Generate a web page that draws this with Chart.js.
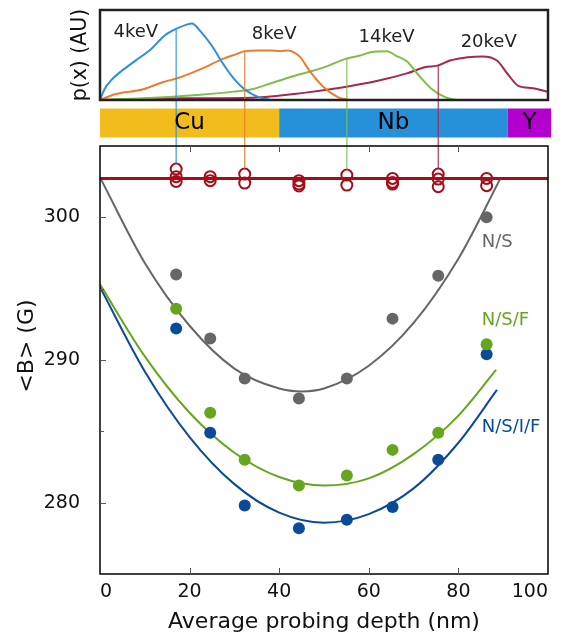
<!DOCTYPE html>
<html>
<head>
<meta charset="utf-8">
<script src="https://cdn.jsdelivr.net/npm/chart.js@4"></script>
<style>
  html, body { margin: 0; padding: 0; background: #fff; }
  #wrap { width: 565px; height: 637px; }
</style>
</head>
<body>
<div id="wrap"><canvas id="fig"></canvas></div>
<script>
'use strict'

// implantation profiles p(x), top panel (depth in nm, arbitrary units)
const prof4X = [0, 1, 2.5, 5, 8, 11.5, 14.5, 17, 19.5, 20.5, 22.5, 25, 27.5, 30, 32.5, 35, 38]
const prof4Y = [0, 0.12, 0.22, 0.33, 0.44, 0.57, 0.72, 0.79, 0.84, 0.85, 0.76, 0.6, 0.4, 0.23, 0.11, 0.04, 0]
const prof8X = [0, 3.3, 9.7, 13.8, 17.8, 22.6, 27.4, 30.6, 32.3, 35.5, 38, 40.3, 41.9, 43.3, 44.8, 46.7, 50, 53.2, 55.6]
const prof8Y = [0, 0.064, 0.12, 0.195, 0.25, 0.345, 0.457, 0.513, 0.543, 0.55, 0.55, 0.543, 0.55, 0.53, 0.47, 0.33, 0.14, 0.03, 0]
const prof14X = [0, 9.7, 21.8, 29.8, 33.9, 38.7, 43.5, 50, 54.8, 58, 60.4, 64, 66, 68.5, 70.9, 74.1, 77.3, 79.7]
const prof14Y = [0, 0.019, 0.056, 0.093, 0.12, 0.195, 0.27, 0.363, 0.457, 0.494, 0.531, 0.543, 0.494, 0.43, 0.289, 0.12, 0.026, 0]
const prof20X = [0, 17.8, 33.9, 45.9, 54, 62, 68.5, 72.5, 75.3, 78.1, 82.1, 85.4, 88.6, 91, 93.4, 96.6, 100]
const prof20Y = [0, 0.019, 0.026, 0.082, 0.138, 0.213, 0.296, 0.363, 0.382, 0.438, 0.475, 0.483, 0.438, 0.289, 0.157, 0.131, 0.09]
const energies = ['4keV', '8keV', '14keV', '20keV']

// layers of the sample
const layerNames = ['Cu', 'Nb', 'Y']
const layerFrom = [0, 40, 91]
const layerTo = [40, 91, 100.7]

// average field vs mean depth
const probeDepth = [17, 24.6, 32.3, 44.4, 55.1, 65.3, 75.5, 86.3]
const fieldNS = [296.0, 291.5, 288.7, 287.3, 288.7, 292.9, 295.9, 300.0]
const fieldNSF = [293.6, 286.3, 283.0, 281.2, 281.9, 283.7, 284.9, 291.1]
const fieldNSIF = [292.2, 284.9, 279.8, 278.2, 278.8, 279.7, 283.0, 290.4]
// normal state reference (open circles), several runs per depth
const fieldNormal = [
  [303.38, 302.85, 302.52],
  [302.85, 302.57],
  [303.03, 302.4],
  [302.57, 302.33, 302.2],
  [302.96, 302.26],
  [302.73, 302.45, 302.33],
  [303.03, 302.68, 302.15],
  [302.73, 302.22]
]
const appliedField = 302.72

// fitted curves
const fitNSX = [0, 10, 20, 30, 40, 45, 50, 60, 70, 80, 89.5]
const fitNSY = [302.8, 296.8, 292.4, 289.4, 288.0, 287.8, 288.0, 289.6, 292.6, 297.1, 302.8]
const fitNSFX = [0, 10, 20, 30, 40, 50, 60, 70, 80, 88.4]
const fitNSFY = [295.3, 290.25, 286.3, 283.5, 281.8, 281.2, 281.7, 283.4, 286.1, 289.3]
const fitNSIFX = [0, 10, 20, 30, 40, 50, 60, 70, 80, 88.6]
const fitNSIFY = [295.1, 289.2, 284.6, 281.3, 279.3, 278.6, 279.2, 281.0, 284.2, 287.9]

// which depth each energy corresponds to and where its drop line starts
const dropIdx = [0, 2, 4, 6]
const dropTop = [0.78, 0.54, 0.457, 0.38]

const bTicks = [280, 290, 300]
const bMinor = [285, 295]
const depthTicks = [20, 40, 60, 80]

;(() => {
  const FONT = 'DejaVu Sans'
  const profColors = ['#2b8fd9', '#ea7d2c', '#7dbf48', '#a8264f']
  const layerColors = ['#f2bd1c', '#2690d9', '#b400cf']
  const RED = '#a50d1a'
  const GRAY = '#666666'
  const GREEN = '#66a61e'
  const BLUE = '#0b4a98'

  const pts = (xs, ys) => xs.map((v, i) => ({ x: v, y: ys[i] }))

  const curve = (xs, ys, color, axis, order) => ({
    data: pts(xs, ys),
    borderColor: color,
    borderWidth: 2,
    pointRadius: 0,
    cubicInterpolationMode: 'monotone',
    yAxisID: axis,
    order
  })

  const dots = (ys, color) => ({
    data: pts(probeDepth, ys),
    showLine: false,
    pointRadius: 6,
    pointBackgroundColor: color,
    pointBorderWidth: 0,
    yAxisID: 'yMain',
    order: 2
  })

  const normalPts = []
  fieldNormal.forEach((runs, i) => runs.forEach((b) => normalPts.push({ x: probeDepth[i], y: b })))

  const profX = [prof4X, prof8X, prof14X, prof20X]
  const profY = [prof4Y, prof8Y, prof14Y, prof20Y]

  const datasets = [
    ...profX.map((xs, i) => curve(xs, profY[i], profColors[i], 'yTop', 5)),
    {
      type: 'bar',
      indexAxis: 'y',
      yAxisID: 'yBar',
      xAxisID: 'x',
      data: layerNames.map((n, i) => ({ x: [layerFrom[i], layerTo[i]], y: 'layer' })),
      backgroundColor: layerColors,
      barPercentage: 0.63,
      categoryPercentage: 1,
      clip: false,
      order: 6
    },
    curve(fitNSX, fitNSY, GRAY, 'yMain', 4),
    curve(fitNSFX, fitNSFY, GREEN, 'yMain', 4),
    curve(fitNSIFX, fitNSIFY, BLUE, 'yMain', 4),
    dots(fieldNS, GRAY),
    dots(fieldNSF, GREEN),
    dots(fieldNSIF, BLUE),
    {
      data: [{ x: 0, y: appliedField }, { x: 100, y: appliedField }],
      borderColor: RED,
      borderWidth: 3,
      pointRadius: 0,
      yAxisID: 'yMain',
      order: 3
    },
    {
      data: normalPts,
      showLine: false,
      pointRadius: 5.5,
      pointBorderWidth: 2,
      pointBorderColor: RED,
      pointBackgroundColor: 'rgba(0,0,0,0)',
      yAxisID: 'yMain',
      order: 1
    }
  ]

  const frames = {
    id: 'frames',
    afterDatasetsDraw(chart) {
      const { ctx, scales } = chart
      const x = scales.x
      const yTop = scales.yTop
      const yBar = scales.yBar
      const y = scales.yMain
      ctx.save()

      // drop lines from each profile to the open circles
      dropIdx.forEach((k, i) => {
        const px = x.getPixelForValue(probeDepth[k])
        const top = yTop.getPixelForValue(dropTop[i])
        const bottom = y.getPixelForValue(Math.max(...fieldNormal[k])) - 5.5
        ctx.strokeStyle = profColors[i]
        ctx.globalAlpha = 0.85
        ctx.lineWidth = 1.3
        ctx.beginPath()
        ctx.moveTo(px, top)
        ctx.lineTo(px, bottom)
        ctx.stroke()
      })
      ctx.globalAlpha = 1

      // top panel frame
      ctx.strokeStyle = '#222'
      ctx.lineWidth = 2.5
      ctx.strokeRect(x.left, yTop.top, x.right - x.left, yTop.bottom - yTop.top)

      // main panel frame
      ctx.strokeStyle = '#000'
      ctx.lineWidth = 1.5
      ctx.strokeRect(x.left, y.top, x.right - x.left, y.bottom - y.top)

      // inward ticks
      ctx.strokeStyle = '#555'
      ctx.lineWidth = 1
      ctx.beginPath()
      depthTicks.forEach((v) => {
        const px = Math.round(x.getPixelForValue(v)) + 0.5
        ctx.moveTo(px, y.bottom)
        ctx.lineTo(px, y.bottom - 6)
        ctx.moveTo(px, y.top)
        ctx.lineTo(px, y.top + 6)
      })
      bTicks.forEach((v) => {
        const py = Math.round(y.getPixelForValue(v)) + 0.5
        ctx.moveTo(x.left, py)
        ctx.lineTo(x.left + 6, py)
      })
      bMinor.forEach((v) => {
        const py = Math.round(y.getPixelForValue(v)) + 0.5
        ctx.moveTo(x.left, py)
        ctx.lineTo(x.left + 4, py)
      })
      ctx.stroke()

      // layer names
      ctx.fillStyle = '#000'
      ctx.font = '23px "' + FONT + '"'
      ctx.textAlign = 'center'
      ctx.textBaseline = 'middle'
      const barMid = yBar.getPixelForValue(0)
      layerNames.forEach((n, i) => {
        ctx.fillText(n, x.getPixelForValue((layerFrom[i] + layerTo[i]) / 2), barMid)
      })

      // energy labels
      ctx.fillStyle = '#222'
      ctx.font = '18px "' + FONT + '"'
      ctx.textAlign = 'left'
      const eAt = [[3, 0.756], [33.9, 0.73], [57.7, 0.7], [80.5, 0.644]]
      energies.forEach((t, i) => {
        ctx.fillText(t, x.getPixelForValue(eAt[i][0]), yTop.getPixelForValue(eAt[i][1]))
      })

      // sample labels
      const sAt = [['N/S', GRAY, 298.25], ['N/S/F', GREEN, 292.8], ['N/S/I/F', BLUE, 285.3]]
      sAt.forEach(([t, c, b]) => {
        ctx.fillStyle = c
        ctx.fillText(t, x.getPixelForValue(85.2), y.getPixelForValue(b))
      })
      ctx.restore()
    }
  }

  const hidden = { grid: { display: false }, border: { display: false } }
  const fitY = (s) => {
    s.width = 100
    s.paddingTop = 0
    s.paddingBottom = 0
  }

  new Chart(document.getElementById('fig'), {
    type: 'line',
    data: { datasets },
    plugins: [frames],
    options: {
      responsive: true,
      maintainAspectRatio: false,
      animation: false,
      events: [],
      layout: { padding: { top: 10, right: 17, bottom: 0, left: 0 } },
      plugins: { legend: { display: false }, tooltip: { enabled: false } },
      scales: {
        x: {
          type: 'linear',
          min: 0,
          max: 100,
          ...hidden,
          afterFit: (s) => {
            s.height = 63
            s.paddingLeft = 0
            s.paddingRight = 0
          },
          ticks: { stepSize: 20, padding: -1, align: 'inner', color: '#111', font: { family: FONT, size: 19 } },
          title: {
            display: true,
            text: 'Average probing depth (nm)',
            color: '#111',
            font: { family: FONT, size: 22 },
            padding: { top: 0, bottom: 2 }
          }
        },
        yMain: {
          type: 'linear',
          position: 'left',
          stack: 'fig',
          stackWeight: 428,
          weight: 1,
          min: 275,
          max: 305,
          ...hidden,
          afterFit: fitY,
          afterBuildTicks: (s) => { s.ticks = bTicks.map((v) => ({ value: v })) },
          ticks: { padding: 12, color: '#111', font: { family: FONT, size: 19 } },
          title: {
            display: true,
            text: '    <B> (G)',
            color: '#111',
            font: { family: FONT, size: 22 },
            padding: { top: 14, bottom: 0 }
          }
        },
        yBar: {
          type: 'category',
          labels: ['layer'],
          offset: true,
          position: 'left',
          stack: 'fig',
          stackWeight: 46,
          weight: 2,
          ...hidden,
          afterFit: fitY,
          ticks: { display: false }
        },
        yTop: {
          type: 'linear',
          position: 'left',
          stack: 'fig',
          stackWeight: 90,
          weight: 3,
          min: 0,
          max: 1,
          ...hidden,
          afterFit: fitY,
          ticks: { display: false },
          title: {
            display: true,
            text: 'p(x) (AU)',
            color: '#111',
            font: { family: FONT, size: 20.5 },
            padding: { top: 68, bottom: 0 }
          }
        }
      }
    }
  })
})()
</script>
</body>
</html>
